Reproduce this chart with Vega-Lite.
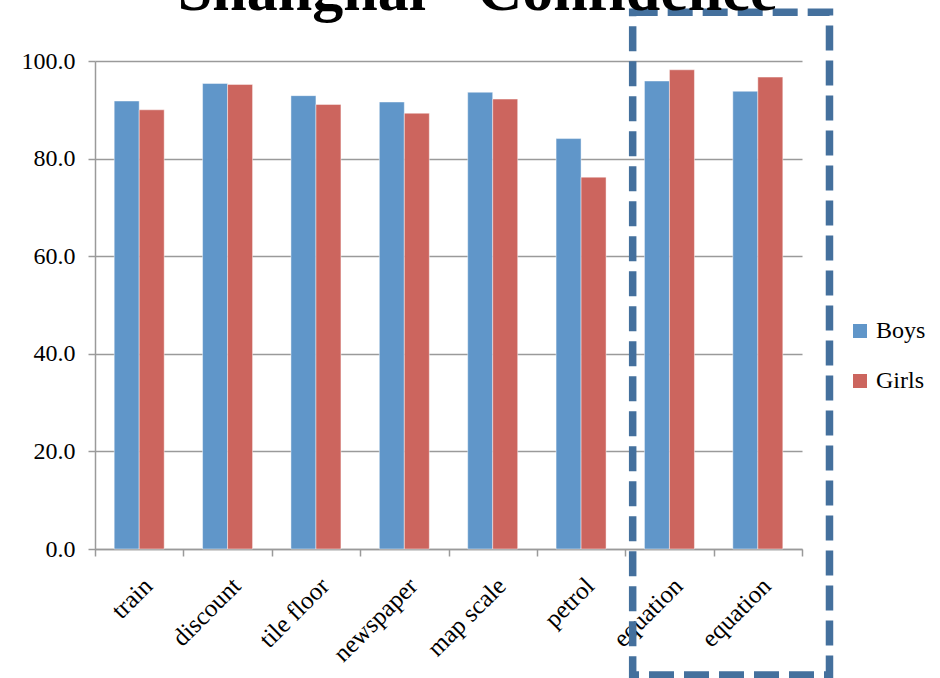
{
  "$schema": "https://vega.github.io/schema/vega-lite/v6.json",
  "width": 707,
  "height": 488,
  "autosize": {"type": "none"},
  "padding": {"left": 95, "top": 61, "right": 138, "bottom": 129},
  "background": "white",
  "title": {
    "text": "Shanghai - Confidence",
    "font": "Liberation Serif",
    "fontSize": 62,
    "fontWeight": "bold",
    "color": "black",
    "anchor": "middle",
    "baseline": "alphabetic",
    "offset": -64,
    "dx": 29
  },
  "config": {
    "view": {"stroke": null},
    "font": "Liberation Serif"
  },
  "datasets": {
    "scores": [
      {"question": "train", "group": "Boys", "value": 91.8},
      {"question": "train", "group": "Girls", "value": 90.0},
      {"question": "discount", "group": "Boys", "value": 95.4},
      {"question": "discount", "group": "Girls", "value": 95.2},
      {"question": "tile floor", "group": "Boys", "value": 92.9},
      {"question": "tile floor", "group": "Girls", "value": 91.1},
      {"question": "newspaper", "group": "Boys", "value": 91.6},
      {"question": "newspaper", "group": "Girls", "value": 89.3},
      {"question": "map scale", "group": "Boys", "value": 93.6},
      {"question": "map scale", "group": "Girls", "value": 92.2},
      {"question": "petrol", "group": "Boys", "value": 84.1},
      {"question": "petrol", "group": "Girls", "value": 76.2},
      {"question": "equation 1", "group": "Boys", "value": 95.9},
      {"question": "equation 1", "group": "Girls", "value": 98.2},
      {"question": "equation 2", "group": "Boys", "value": 93.8},
      {"question": "equation 2", "group": "Girls", "value": 96.7}
    ],
    "highlight": [
      {"x0": 6.084, "x1": 8.311, "y0": -25.8, "y1": 110.0}
    ]
  },
  "layer": [
    {
      "data": {"name": "scores"},
      "mark": {"type": "bar", "stroke": "white", "strokeOpacity": 0.45, "strokeWidth": 1},
      "encoding": {
        "x": {
          "field": "question",
          "type": "nominal",
          "sort": null,
          "title": null,
          "scale": {"paddingInner": 0, "paddingOuter": 0},
          "axis": {
            "labelAngle": -45,
            "labelExpr": "indexof(datum.label, 'equation') === 0 ? 'equation' : datum.label",
            "labelFont": "Liberation Serif",
            "labelFontSize": 25,
            "labelColor": "black",
            "labelPadding": 17,
            "labelBound": false,
            "labelOverlap": false,
            "tickBand": "extent",
            "tickSize": 7,
            "tickColor": "#9a9a9a",
            "tickWidth": 1.5,
            "domainColor": "#9a9a9a",
            "domainWidth": 1.5,
            "grid": false
          }
        },
        "xOffset": {
          "field": "group",
          "type": "nominal",
          "scale": {"paddingInner": 0, "paddingOuter": 0.7675}
        },
        "y": {
          "field": "value",
          "type": "quantitative",
          "title": null,
          "scale": {"domain": [0, 100], "nice": false, "zero": true},
          "axis": {
            "values": [0, 20, 40, 60, 80, 100],
            "format": ".1f",
            "labelFont": "Liberation Serif",
            "labelFontSize": 24,
            "labelColor": "black",
            "labelPadding": 13,
            "tickSize": 7,
            "tickColor": "#9a9a9a",
            "tickWidth": 1.5,
            "domainColor": "#9a9a9a",
            "domainWidth": 1.5,
            "grid": true,
            "gridColor": "#9a9a9a",
            "gridWidth": 1.5
          }
        },
        "color": {
          "field": "group",
          "type": "nominal",
          "title": null,
          "scale": {"domain": ["Boys", "Girls"], "range": ["#6096c9", "#cc655e"]},
          "legend": {
            "orient": "none",
            "legendX": 753,
            "legendY": 258,
            "symbolType": "square",
            "symbolSize": 196,
            "symbolStrokeWidth": 0,
            "symbolOpacity": 1,
            "labelFont": "Liberation Serif",
            "labelFontSize": 24,
            "labelColor": "black",
            "labelOffset": 4,
            "rowPadding": 26
          }
        }
      }
    },
    {
      "data": {"name": "highlight"},
      "mark": {
        "type": "rect",
        "clip": false,
        "fillOpacity": 0,
        "stroke": "#44709d",
        "strokeWidth": 7.5,
        "strokeDash": [25, 10]
      },
      "encoding": {
        "x": {"field": "x0", "type": "quantitative", "scale": {"domain": [0, 8], "nice": false, "zero": false}, "axis": null},
        "x2": {"field": "x1"},
        "y": {"field": "y0", "type": "quantitative", "title": null},
        "y2": {"field": "y1"}
      }
    }
  ],
  "resolve": {"scale": {"x": "independent"}, "axis": {"x": "independent"}}
}
